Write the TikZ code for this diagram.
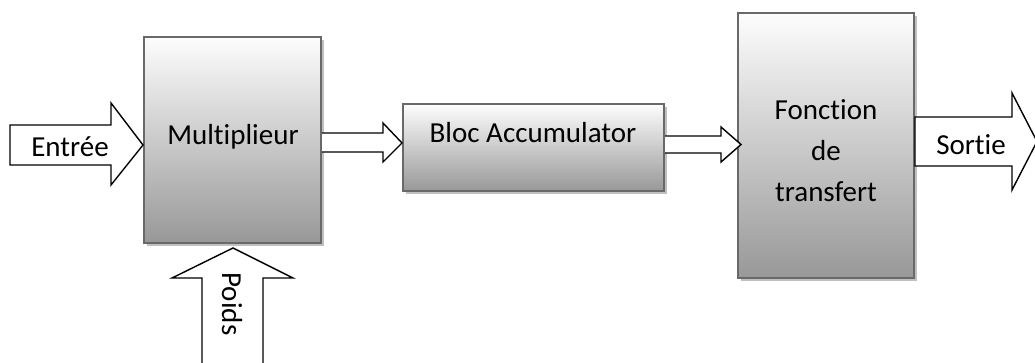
\documentclass[tikz,border=0pt]{standalone}
\usepackage{fontspec}
\setmainfont[RawFeature={-liga;-dlig}]{Carlito}
\definecolor{boxtop}{RGB}{253,253,253}
\definecolor{boxbot}{RGB}{152,152,152}
\definecolor{boxline}{RGB}{105,105,105}
\definecolor{shadowc}{RGB}{192,192,192}
\tikzset{
  blockbox/.style={draw=boxline, line width=2pt, top color=boxtop, bottom color=boxbot,
    minimum width=#1, inner sep=0pt},
  boxshadow/.style={fill=shadowc, draw=none},
  blockarrow/.style={draw=black, line width=1.4pt, fill=white, line join=miter},
  lbl/.style={font=\fontsize{29}{41}\selectfont, inner sep=0pt, anchor=base, align=center}
}
\begin{document}
\begin{tikzpicture}[x=1pt,y=-1pt]
\useasboundingbox (0,0) rectangle (1035,363);
% shadows
\fill[boxshadow] (147,40) rectangle (324,246);
\fill[boxshadow] (406,107) rectangle (667,194);
\fill[boxshadow] (741,16) rectangle (917,281);
% boxes
\node[blockbox=177pt, minimum height=206pt] (mul) at (232.5,140) {};
\node[blockbox=261pt, minimum height=87pt] (acc) at (533.5,147.5) {};
\node[blockbox=176pt, minimum height=265pt] (fct) at (826,145.5) {};
% box texts
\node[lbl] (tmul) at (233,145) {Multiplieur};
\node[lbl] (tacc) at (533,143) {Bloc Accumulator};
\node[lbl, anchor=base] (tfct) at (826,202) {Fonction\\de\\transfert};
% block arrows
\coordinate (inTip) at (mul.west |- 0,145);
\draw[blockarrow] (10,125) -- (111,125) -- (111,103) -- (inTip) -- (111,185) -- (111,165) -- (10,165) -- cycle;
\node[lbl] (tin) at (70,157) {Entrée};

\coordinate (wTip) at (233,248);
\draw[blockarrow] (202,372) -- (202,278) -- (172,278) -- (wTip) -- (293,278) -- (263,278) -- (263,372);
\node[lbl, anchor=center, rotate=-90] (tw) at (232,304) {Poids};

\coordinate (a1Tip) at (acc.west |- 0,143);
\draw[blockarrow] (mul.east |- 0,133) -- (383,133) -- (383,123) -- (a1Tip) -- (383,162) -- (383,152) -- (mul.east |- 0,152);

\coordinate (a2Tip) at (741,144.5);
\draw[blockarrow] (acc.east |- 0,136) -- (721,136) -- (721,127) -- (a2Tip) -- (721,162) -- (721,153) -- (acc.east |- 0,153);

\coordinate (outTip) at (1037,141.5);
\draw[blockarrow] (fct.east |- 0,117) -- (1012,117) -- (1012,93) -- (outTip) -- (1012,190) -- (1012,166) -- (fct.east |- 0,166) -- cycle;
\node[lbl] (tout) at (971,155) {Sortie};
\end{tikzpicture}
\end{document}
